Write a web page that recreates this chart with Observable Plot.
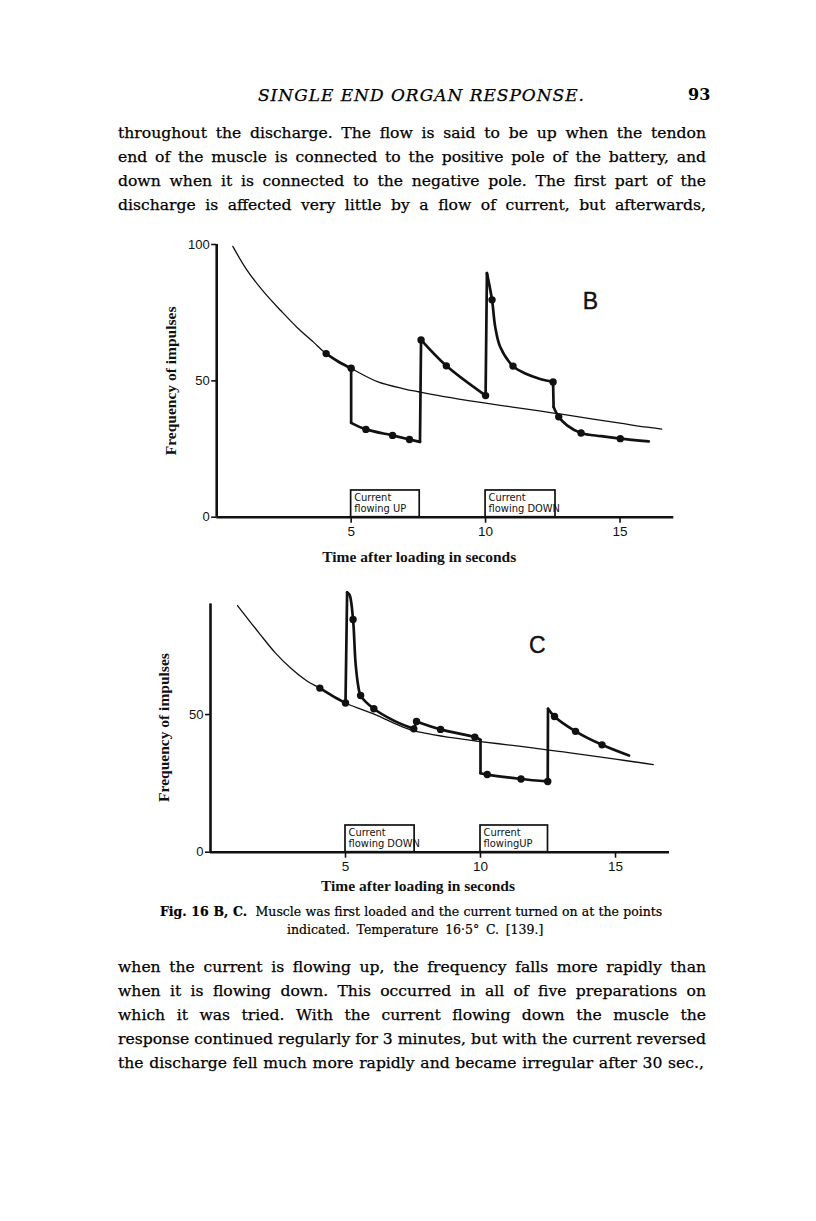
<!DOCTYPE html>
<html>
<head>
<meta charset="utf-8">
<script src="https://cdn.jsdelivr.net/npm/d3@7"></script>
<script src="https://cdn.jsdelivr.net/npm/@observablehq/plot@0.6"></script>
<style>
  html, body { margin: 0; padding: 0; background: #fff; }
  #page { position: relative; width: 816px; height: 1221px; overflow: hidden; background: #fff; color: #000; }
  .ln { position: absolute; white-space: nowrap; font-family: "DejaVu Serif", serif; font-size: 15.6px; line-height: 24px; height: 24px; -webkit-text-stroke: 0.25px #000; }
  .cap { position: absolute; white-space: nowrap; font-family: "DejaVu Serif", serif; font-size: 12.5px; line-height: 18px; -webkit-text-stroke: 0.2px #000; }
  .chart { position: absolute; left: 0; }
</style>
</head>
<body>
<div id="page"></div>
<script>
// ---------- Text of the page ----------
const headerTitle = "SINGLE END ORGAN RESPONSE.";
const pageNumber = "93";
const topLines = [
  "throughout the discharge. The flow is said to be up when the tendon",
  "end of the muscle is connected to the positive pole of the battery, and",
  "down when it is connected to the negative pole. The first part of the",
  "discharge is affected very little by a flow of current, but afterwards,"
];
const captionLines = [
  "Muscle was first loaded and the current turned on at the points",
  "indicated. Temperature 16·5° C.  [139.]"
];
const bottomLines = [
  "when the current is flowing up, the frequency falls more rapidly than",
  "when it is flowing down. This occurred in all of five preparations on",
  "which it was tried. With the current flowing down the muscle the",
  "response continued regularly for 3 minutes, but with the current reversed",
  "the discharge fell much more rapidly and became irregular after 30 sec.,"
];

// ---------- Chart B data ----------
const bSmoothX = [0.6, 1.1, 1.75, 2.4, 3.0, 3.6, 4.07, 5.0, 6.0, 7.0, 7.5, 8.0, 9.0, 10.0, 11.0, 12.0, 12.65, 13.0, 14.0, 15.0, 16.0, 16.55];
const bSmoothY = [99.3, 91.0, 82.6, 75.6, 69.5, 64.2, 60.0, 54.6, 49.6, 47.0, 46.0, 45.0, 43.3, 41.8, 40.4, 39.0, 38.0, 37.5, 36.0, 34.5, 33.0, 32.3];
const bRespSeg = [1,1,1, 2,2, 3,3,3,3,3, 4,4, 5,5,5, 6,6, 7,7,7,7,7,7,7,7, 8,8, 9,9,9,9,9,9,9];
const bRespX = [4.07,4.5,5.0, 5.0,5.0, 5.0,5.55,6.54,7.17,7.56, 7.56,7.6, 7.6,8.54,10.0, 10.0,10.05, 10.05,10.24,10.36,10.55,11.02,11.5,12.0,12.51, 12.51,12.53, 12.53,12.72,13.03,13.55,14.3,15.01,16.07];
const bRespY = [60.0,57.2,54.6, 54.6,34.6, 34.6,32.2,30.0,28.5,27.6, 27.6,65.0, 65.0,55.5,44.6, 44.6,89.5, 89.5,79.7,69.7,62.3,55.4,52.6,50.8,49.6, 49.6,40.4, 40.4,36.8,33.7,30.9,29.7,28.8,27.8];
const bDotX = [4.07, 5.0, 5.55, 6.54, 7.17, 7.6, 8.54, 10.0, 10.24, 11.02, 12.51, 12.72, 13.55, 15.01];
const bDotY = [60.0, 54.6, 32.2, 30.0, 28.5, 65.0, 55.5, 44.6, 79.7, 55.4, 49.6, 36.8, 30.9, 28.8];
const bBoxStart = [5, 10];
const bBoxEnd = [7.55, 12.6];
const bBoxTop = [9.8, 9.8];
const bBoxLabels = ["Current\nflowing UP", "Current\nflowing DOWN"];

// ---------- Chart C data ----------
const cSmoothX = [1.0, 1.8, 2.4, 3.0, 3.6, 4.05, 5.0, 6.1, 7.0, 7.5, 8.0, 9.0, 10.0, 11.0, 12.0, 12.5, 13.0, 14.0, 15.0, 16.0, 16.4];
const cSmoothY = [89.6, 79.6, 72.4, 66.6, 62.0, 59.6, 54.2, 50.0, 46.0, 44.2, 43.2, 41.5, 40.2, 39.0, 37.8, 37.1, 36.5, 35.2, 33.8, 32.4, 31.8];
const cRespSeg = [1,1,1, 2,2, 3,3,3,3,3,3,3,3,3, 4,4, 5,5,5,5, 6,6, 7,7,7,7, 8,8, 9,9,9,9,9];
const cRespX = [4.05,4.5,5.0, 5.0,5.06, 5.06,5.15,5.28,5.37,5.47,5.56,6.05,6.79,7.53, 7.53,7.63, 7.63,8.52,9.79,10.0, 10.0,10.0, 10.0,10.25,11.5,12.49, 12.49,12.5, 12.5,12.74,13.52,14.5,15.5];
const cRespY = [59.6,56.9,54.2, 54.2,94.4, 94.4,93.5,84.5,69.0,60.5,56.9,52.1,47.8,44.8, 44.8,47.5, 47.5,44.6,41.8,40.8, 40.8,28.7, 28.7,28.2,26.6,25.7, 25.7,52.1, 52.1,49.3,43.9,39.0,35.1];
const cDotX = [4.05, 5.0, 5.28, 5.56, 6.05, 7.53, 7.63, 8.52, 9.79, 10.25, 11.5, 12.49, 12.74, 13.52, 14.5];
const cDotY = [59.6, 54.2, 84.5, 56.9, 52.1, 44.8, 47.5, 44.6, 41.8, 28.2, 26.6, 25.7, 49.3, 43.9, 39.0];
const cBoxStart = [5, 10];
const cBoxEnd = [7.56, 12.5];
const cBoxTop = [9.7, 9.7];
const cBoxLabels = ["Current\nflowing DOWN", "Current\nflowingUP"];

// tick values
const bYTicks = [0, 50, 100];
const cYTicks = [0, 50];
const xTicks = [5, 10, 15];
const yLabel = "Frequency of impulses";
const xLabel = "Time after loading in seconds";

// ---------- helpers ----------
const page = document.getElementById("page");
function addText(cls, text, left, cy, lh, extra) {
  const el = document.createElement("div");
  el.className = cls;
  el.textContent = text;
  el.style.left = left + "px";
  el.style.top = (cy - lh / 2) + "px";
  if (extra) Object.assign(el.style, extra);
  page.appendChild(el);
  return el;
}
function fitWords(el, width) {
  const w = el.getBoundingClientRect().width;
  const n = (el.textContent.match(/ /g) || []).length;
  if (n) el.style.wordSpacing = ((width - w) / n) + "px";
}
function fitLetters(el, width) {
  const w = el.getBoundingClientRect().width;
  const n = el.textContent.length;
  el.style.letterSpacing = ((width - w) / n) + "px";
}

// header
const hd = addText("ln", headerTitle, 258, 95, 24, {fontStyle: "italic", fontSize: "17px"});
fitLetters(hd, 327);
addText("ln", pageNumber, 688, 95, 24, {fontWeight: "bold", fontSize: "16px", WebkitTextStroke: "0px"});

// top paragraph
topLines.forEach((t, i) => fitWords(addText("ln", t, 118, 133 + i * 24, 24), 588));

// bottom paragraph
bottomLines.forEach((t, i) => {
  const el = addText("ln", t, 118, 967 + i * 24, 24);
  fitWords(el, i === bottomLines.length - 1 ? 586 : 588);
});

// caption
const c1 = document.createElement("div");
c1.className = "cap";
c1.style.left = "160px"; c1.style.top = (912 - 9) + "px";
c1.innerHTML = '<b>Fig. 16 B, C.</b>&nbsp; ' + captionLines[0];
page.appendChild(c1);
fitWords(c1, 502);
const c2 = addText("cap", captionLines[1], 287, 930, 18);
fitWords(c2, 259);

// ---------- charts ----------
const sans = "'Liberation Sans', Arial, sans-serif";
const serif = "'Liberation Serif', 'DejaVu Serif', serif";
const boxFont = "'DejaVu Sans Condensed', 'Liberation Sans Narrow', 'DejaVu Sans', sans-serif";

function makeChart(cfg) {
  const smooth = cfg.smoothX.map((x, i) => ({x, y: cfg.smoothY[i]}));
  const resp = cfg.respX.map((x, i) => ({x, y: cfg.respY[i], seg: cfg.respSeg[i]}));
  const dots = cfg.dotX.map((x, i) => ({x, y: cfg.dotY[i]}));
  const boxes = cfg.boxStart.map((s, i) => ({x1: s, x2: cfg.boxEnd[i], top: cfg.boxTop[i], label: cfg.boxLabels[i]}));
  return Plot.plot({
    width: 816,
    height: cfg.height,
    marginLeft: cfg.marginLeft,
    marginRight: cfg.marginRight,
    marginTop: cfg.marginTop,
    marginBottom: cfg.marginBottom,
    style: {background: "transparent", color: "#111", overflow: "visible"},
    x: {domain: [0, 17]},
    y: {domain: [0, 100]},
    marks: [
      Plot.rectY(boxes, {x1: "x1", x2: "x2", y1: 0, y2: "top", fill: "white", stroke: "#111", strokeWidth: 1.7}),
      Plot.text(boxes, {x: "x1", y: "top", text: "label", textAnchor: "start", lineAnchor: "top", dx: 3, dy: 2.5, lineHeight: 1.0, fontSize: 11, fontWeight: 500, fontFamily: boxFont, fill: "#111"}),
      Plot.line(smooth, {x: "x", y: "y", curve: "catmull-rom", stroke: "#111", strokeWidth: 1.3}),
      Plot.line(resp, {x: "x", y: "y", z: "seg", curve: "catmull-rom", stroke: "#111", strokeWidth: 2.7, strokeLinejoin: "round"}),
      Plot.dot(dots, {x: "x", y: "y", r: 3.7, fill: "#111", stroke: null}),
      Plot.ruleX([0], {y1: 0, y2: cfg.yTop, stroke: "#111", strokeWidth: 2.6}),
      Plot.ruleY([0], {x1: 0, x2: 17, stroke: "#111", strokeWidth: 2.6}),
      Plot.axisY({ticks: cfg.yTicks, tickSize: 5, tickPadding: 2, tickFormat: d => String(d), fontSize: 13, fontFamily: sans, strokeWidth: 1.6, label: null}),
      Plot.axisX({ticks: xTicks, tickSize: 6, tickPadding: 3, tickFormat: d => String(d), fontSize: 13.5, fontFamily: sans, strokeWidth: 1.6, label: null}),
      Plot.text([yLabel], {text: d => d, frameAnchor: "left", textAnchor: "middle", lineAnchor: "middle", rotate: -90, dx: -46, dy: cfg.yLabelDy, fontFamily: serif, fontWeight: "bold", fontSize: 15.5, fill: "#111"}),
      Plot.text([xLabel], {text: d => d, frameAnchor: "bottom", textAnchor: "middle", lineAnchor: "middle", dx: cfg.xLabelDx, dy: cfg.xLabelDy, fontFamily: serif, fontWeight: "bold", fontSize: 15.5, fill: "#111"}),
      Plot.text([cfg.letter], {text: d => d, x: cfg.letterX, y: cfg.letterY, fontFamily: sans, fontSize: 23, fill: "#111", stroke: "#111", strokeWidth: 0.4})
    ]
  });
}

const chartB = makeChart({
  height: 340, marginLeft: 216.2, marginRight: 142.7, marginTop: 14, marginBottom: 53.3,
  smoothX: bSmoothX, smoothY: bSmoothY, respX: bRespX, respY: bRespY, respSeg: bRespSeg,
  dotX: bDotX, dotY: bDotY, boxStart: bBoxStart, boxEnd: bBoxEnd, boxTop: bBoxTop, boxLabels: bBoxLabels,
  yTicks: bYTicks, yTop: 100, yLabelDy: 0, xLabelDx: -26, xLabelDy: 40,
  letter: "B", letterX: 13.9, letterY: 79
});
const divB = document.createElement("div");
divB.className = "chart"; divB.style.top = "230px";
divB.appendChild(chartB);
page.appendChild(divB);

const chartC = makeChart({
  height: 325, marginLeft: 210, marginRight: 147, marginTop: 1.4, marginBottom: 48.3,
  smoothX: cSmoothX, smoothY: cSmoothY, respX: cRespX, respY: cRespY, respSeg: cRespSeg,
  dotX: cDotX, dotY: cDotY, boxStart: cBoxStart, boxEnd: cBoxEnd, boxTop: cBoxTop, boxLabels: cBoxLabels,
  yTicks: cYTicks, yTop: 90.2, yLabelDy: 13, xLabelDx: -22, xLabelDy: 34,
  letter: "C", letterX: 12.1, letterY: 75
});
const divC = document.createElement("div");
divC.className = "chart"; divC.style.top = "575px";
divC.appendChild(chartC);
page.appendChild(divC);
</script>
</body>
</html>
